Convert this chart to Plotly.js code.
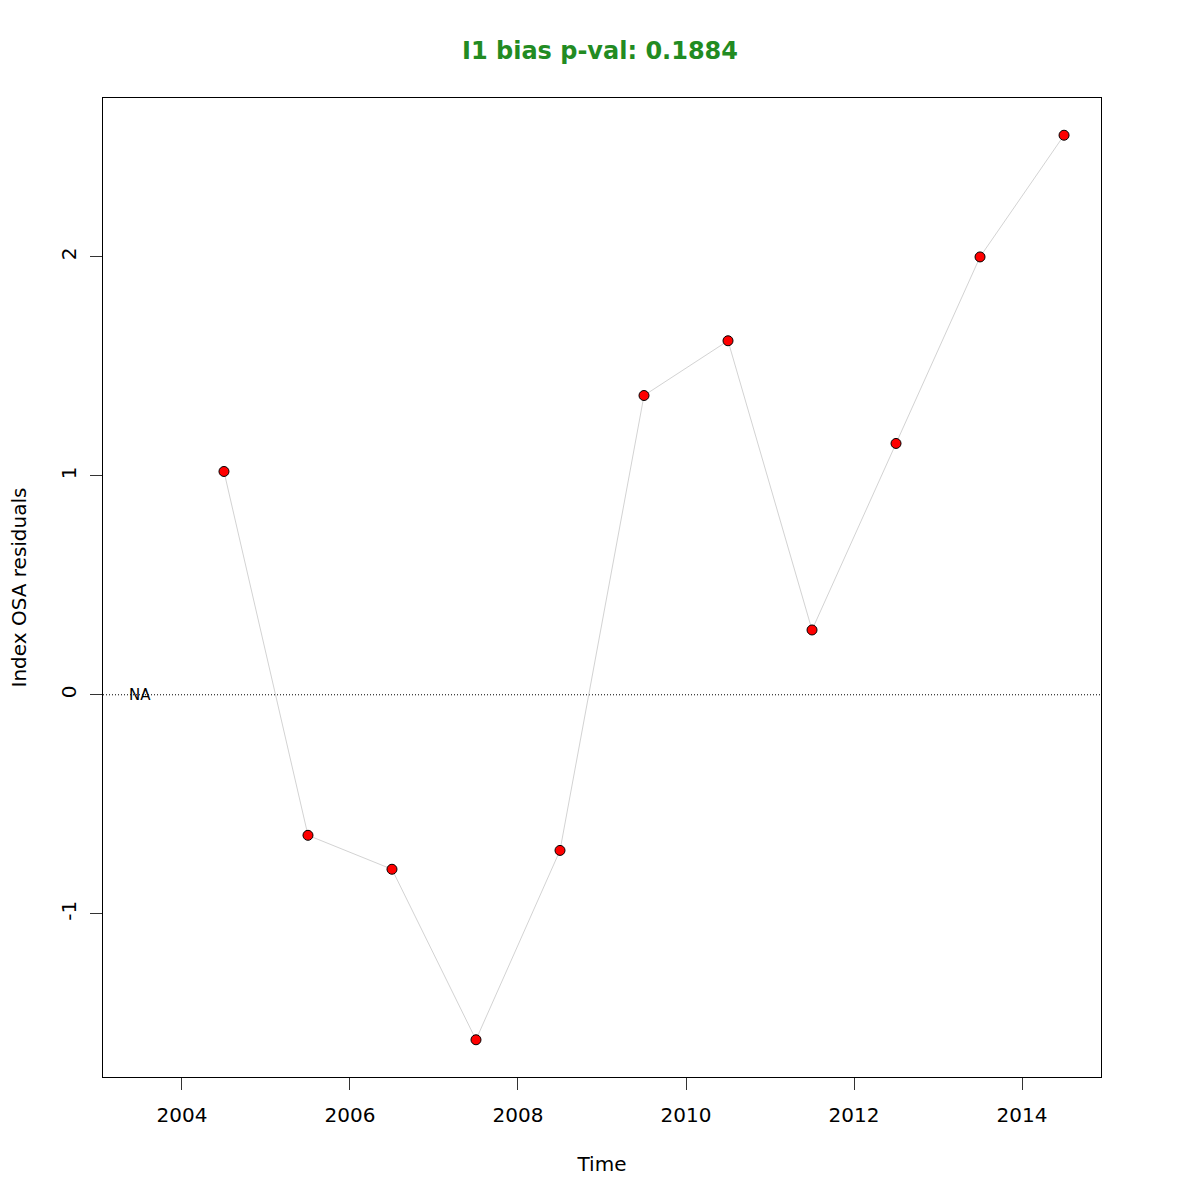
<!DOCTYPE html>
<html>
<head>
<meta charset="utf-8">
<script src="https://cdn.plot.ly/plotly-3.0.1.min.js"></script>
<style>body{margin:0;padding:0;background:#fff;}#chart{width:1200px;height:1200px;}</style>
</head>
<body>
<div id="chart"></div>
<script>
const years = [2004.5, 2005.5, 2006.5, 2007.5, 2008.5, 2009.5, 2010.5, 2011.5, 2012.5, 2013.5, 2014.5];
const residuals = [1.02, -0.642, -0.797, -1.576, -0.711, 1.367, 1.617, 0.296, 1.148, 2.0, 2.556];
const xTicks = [2004, 2006, 2008, 2010, 2012, 2014];
const yTicks = [-1, 0, 1, 2];
const titleText = "I1 bias p-val: 0.1884";
const naLabel = {x: 2003.5, y: 0, text: "NA"};

const font = "DejaVu Sans, sans-serif";

const traces = [
  {x: years, y: residuals, type: "scatter", mode: "lines",
   line: {color: "#d3d3d3", width: 1}, hoverinfo: "skip", showlegend: false},
  {x: years, y: residuals, type: "scatter", mode: "markers",
   marker: {color: "red", size: 10, line: {color: "black", width: 1}}, showlegend: false}
];

const layout = {
  width: 1200, height: 1200,
  paper_bgcolor: "white", plot_bgcolor: "white",
  margin: {l: 103, r: 99, t: 98, b: 123, pad: 0},
  font: {family: font, color: "black", size: 20},
  title: {text: "<b>" + titleText + "</b>", font: {family: font, size: 24, color: "#228B22"},
          x: 0.5, xanchor: "center", y: 1 - 51/1200, yanchor: "middle"},
  xaxis: {range: [2003.06, 2014.94], tickvals: xTicks, ticktext: xTicks.map(String),
          ticks: "outside", ticklen: 12, tickcolor: "#333", tickwidth: 1, ticklabelstandoff: 8,
          showgrid: false, zeroline: false, showline: true, linecolor: "black", linewidth: 1, mirror: true,
          tickfont: {size: 20}, title: {text: "Time", font: {size: 20}, standoff: 30}},
  yaxis: {range: [-1.746, 2.726], tickvals: yTicks, ticktext: yTicks.map(String), tickangle: -90,
          ticks: "outside", ticklen: 12, tickcolor: "#333", tickwidth: 1, ticklabelstandoff: 6,
          showgrid: false, zeroline: false, showline: true, linecolor: "black", linewidth: 1, mirror: true,
          tickfont: {size: 20}, title: {text: "Index OSA residuals", font: {size: 20}, standoff: 25}},
  shapes: [{type: "line", xref: "paper", x0: 0, x1: 1, yref: "y", y0: 0, y1: 0,
            line: {color: "black", width: 1, dash: "1px,2px"}, layer: "below"}],
  annotations: [{x: naLabel.x, y: naLabel.y, text: naLabel.text, showarrow: false,
                 font: {size: 15, family: font, color: "black"}, xanchor: "center", yanchor: "middle"}]
};

Plotly.newPlot("chart", traces, layout, {displayModeBar: false, staticPlot: true});
</script>
</body>
</html>
